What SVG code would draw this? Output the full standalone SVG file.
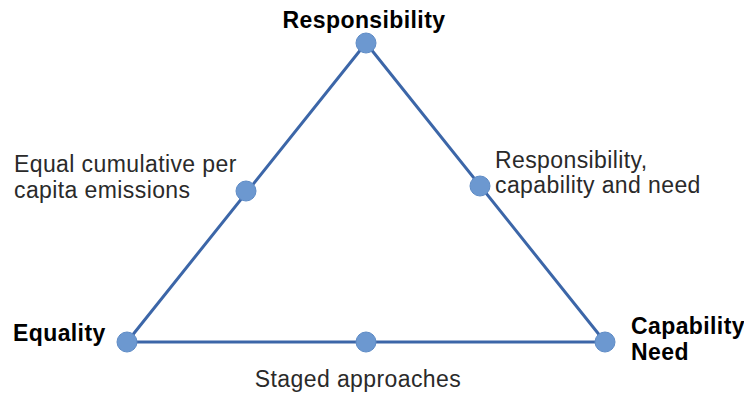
<svg xmlns="http://www.w3.org/2000/svg" width="744" height="399" viewBox="0 0 744 399">
<style>
.edge{stroke:#3c66a8;stroke-width:3;fill:none;stroke-linecap:round;stroke-linejoin:round}
.dot{fill:#6c98d0;stroke:#5f8cc6;stroke-width:1}
.lbl{font-family:"Liberation Sans",Arial,sans-serif;font-size:23px;fill:#2a2a2a;letter-spacing:0.4px}
.bold{font-family:"Liberation Sans",Arial,sans-serif;font-size:23px;font-weight:bold;fill:#000;letter-spacing:0.4px}
</style>
<rect width="744" height="399" fill="#fff"/>
<g id="connectors">
<line class="edge" x1="366" y1="43" x2="127" y2="342"/>
<line class="edge" x1="366" y1="43" x2="605" y2="342"/>
<line class="edge" x1="127" y1="342" x2="605" y2="342"/>
</g>
<g id="node-responsibility">
<circle class="dot" cx="366" cy="43" r="10"/>
<text class="bold" x="364" y="28" text-anchor="middle">Responsibility</text>
</g>
<g id="node-equality">
<circle class="dot" cx="127" cy="342" r="10"/>
<text class="bold" x="13" y="341">Equality</text>
</g>
<g id="node-capability">
<circle class="dot" cx="605" cy="342" r="10"/>
<text class="bold" x="631" y="334">Capability</text>
<text class="bold" x="631" y="360">Need</text>
</g>
<g id="node-equal-cumulative">
<circle class="dot" cx="246" cy="191" r="10"/>
<text class="lbl" x="14" y="172">Equal cumulative per</text>
<text class="lbl" x="14" y="198">capita emissions</text>
</g>
<g id="node-rcn">
<circle class="dot" cx="480" cy="186" r="10"/>
<text class="lbl" x="495" y="168">Responsibility,</text>
<text class="lbl" x="495" y="193">capability and need</text>
</g>
<g id="node-staged">
<circle class="dot" cx="366" cy="342" r="10"/>
<text class="lbl" x="358" y="387" text-anchor="middle">Staged approaches</text>
</g>
</svg>
